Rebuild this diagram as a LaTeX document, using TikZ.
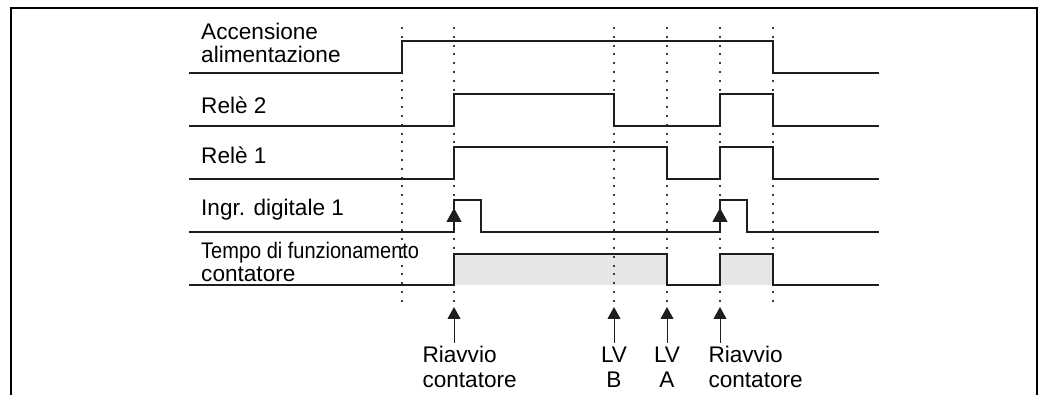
\documentclass[tikz,border=0pt]{standalone}
\usepackage{fontspec}
\setmainfont{Liberation Sans}
\usepackage{graphicx}
\usetikzlibrary{arrows.meta,positioning}
\definecolor{TraceBlack}{RGB}{30,30,30}
\definecolor{RunGray}{RGB}{229,231,231}
\definecolor{DotGray}{RGB}{60,60,60}

\begin{document}
\begin{tikzpicture}[x=1pt,y=-1pt,>={Triangle[width=13pt,length=12pt]},
    trace/.style={line width=1.2pt,TraceBlack},
    marker/.style={line width=1.1pt,DotGray,dash pattern=on 2pt off 6.8pt},
    pointer/.style={->,line width=1pt,TraceBlack},
    sigtext/.style={inner sep=0pt,align=left,font=\fontsize{22.6}{23}\selectfont},
    evtext/.style={inner sep=0pt,outer sep=3.5pt,font=\fontsize{22.6}{25}\selectfont}]
  \useasboundingbox (0,0) rectangle (1042,395);
  % open frame
  \draw[line width=2.4pt,black] (11,400) -- (11,8) -- (1037,8) -- (1037,400);

  % switching instants
  \coordinate (tOn) at (402,27);
  \coordinate (tR1) at (454,27);
  \coordinate (tB)  at (614,27);
  \coordinate (tA)  at (667,27);
  \coordinate (tR2) at (720,27);
  \coordinate (tOff) at (773,27);

  % counter running time
  \fill[RunGray] (454,254) rectangle (667,285);
  \fill[RunGray] (720,254) rectangle (773,285);

  \draw[marker] (tOn) -- ++(0,276);
  \draw[marker] (tOff) -- ++(0,276);
  \foreach \t in {tR1,tB,tA,tR2}
    \draw[marker] (\t) -- ++(0,280);

  % signal names
  \node[sigtext,anchor=north west] (pwr) at (201,23) {Accensione\\alimentazione};
  \node[sigtext,anchor=base west] (rl2) at (201,113.3) {Relè 2};
  \node[sigtext,anchor=base west] (rl1) at (201,163.5) {Relè 1};
  \node[sigtext,anchor=base west] (din) at (201,216) {Ingr. digitale 1};
  \node[sigtext,anchor=north west] (run) at (201,241.5) {\scalebox{0.885}[1]{Tempo di funzionamento}\\contatore};

  % traces
  \draw[trace] (189,73) -| (402,41) -| (773,73) -- (879,73);
  \draw[trace] (189,126) -| (454,94) -| (614,126) -| (720,94) -| (773,126) -- (879,126);
  \draw[trace] (189,179) -| (454,147) -| (667,179) -| (720,147) -| (773,179) -- (879,179);
  \draw[trace] (189,232) -| (454,200) -| (481,232) -| (720,200) -| (747,232) -- (879,232);
  \draw[trace] (189,285) -| (454,254) -| (667,285) -| (720,254) -| (773,285) -- (879,285);
  \draw[trace,>={Triangle[width=15pt,length=14pt]},->] (454,223) -- (454,208);
  \draw[trace,>={Triangle[width=15pt,length=14pt]},->] (720,223) -- (720,208);

  % events
  \node[evtext,align=left,anchor=north west] (rstA) at (419,343) {Riavvio\\contatore};
  \node[evtext,align=center,anchor=north] (lvB) at (614,343) {LV\\B};
  \node[evtext,align=center,anchor=north] (lvA) at (667,343) {LV\\A};
  \node[evtext,align=left,anchor=north west] (rstB) at (705,343) {Riavvio\\contatore};
  \draw[pointer] (rstA.north -| tR1) -- (454,307);
  \draw[pointer] (lvB.north -| tB) -- (614,307);
  \draw[pointer] (lvA.north -| tA) -- (667,307);
  \draw[pointer] (rstB.north -| tR2) -- (720,307);
\end{tikzpicture}
\end{document}
